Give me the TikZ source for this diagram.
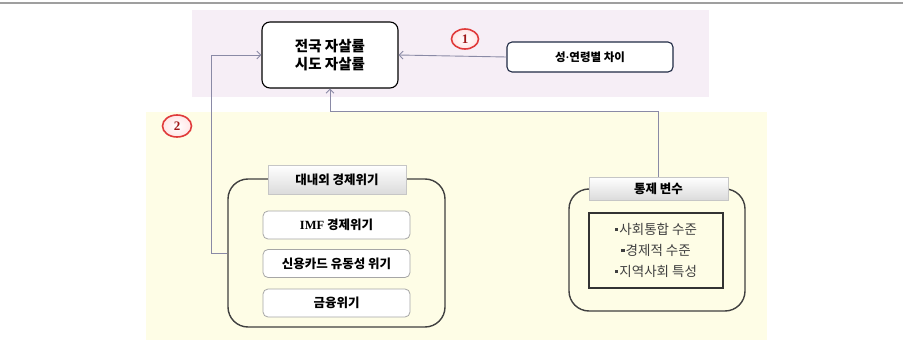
\documentclass[tikz,border=0pt]{standalone}
\usepackage{fontspec}
\newfontfamily\kr{Noto Sans CJK KR}
\newfontfamily\tnr{Liberation Serif}
\usetikzlibrary{arrows.meta,shapes.geometric}
\definecolor{pinkbg}{HTML}{F6EEF6}
\definecolor{yellowbg}{HTML}{FEFDE6}
\definecolor{conncol}{HTML}{8A8AA6}
\definecolor{navy}{HTML}{1F2A44}
\definecolor{numred}{HTML}{E03A3A}
\definecolor{numtxt}{HTML}{A01818}
\newcommand{\sq}{\raisebox{3.5pt}{\rule{3.5pt}{3.5pt}}\kern1pt}
\begin{document}
\begin{tikzpicture}[x=1pt,y=-1pt,
  conn/.style={draw=conncol, line width=0.9pt, -{Straight Barb[length=4pt,width=8pt]}},
  numcirc/.style={ellipse, draw=numred, line width=1.6pt, inner sep=0pt,
     inner color=white, outer color=red!10, font=\tnr\bfseries\fontsize{13}{13}\selectfont, text=numtxt},
  mainbox/.style={draw=black, line width=1.1pt, fill=white, rounded corners=8pt,
     minimum width=136pt, minimum height=66pt, align=center,
     font=\kr\bfseries\fontsize{14.5}{18}\selectfont},
  sexbox/.style={draw=navy, line width=1.1pt, fill=white, rounded corners=5pt,
     minimum width=166pt, minimum height=30pt, font=\kr\bfseries\fontsize{11.5}{12}\selectfont},
  groupbox/.style={draw=black!75, line width=1.4pt, rounded corners=20pt},
  titlebox/.style={draw=gray!45, line width=0.6pt, top color=white, bottom color=gray!28,
     font=\kr\bfseries\fontsize{12.5}{13}\selectfont},
  itembox/.style={draw=gray!70, line width=0.8pt, fill=white, rounded corners=5pt,
     minimum width=147pt, minimum height=28pt, font=\kr\bfseries\fontsize{12.5}{13}\selectfont},
  listbox/.style={draw=black!80, line width=1.1pt, fill=yellowbg,
     minimum width=134pt, minimum height=75pt, align=center,
     font=\kr\fontsize{13.5}{21}\selectfont, text=black!75}
]
\useasboundingbox (0,0) rectangle (903,345);
\draw[gray!75, line width=2pt] (0,3.5) -- (903,3.5);
\fill[pinkbg] (192,10) rectangle (709,97);
\fill[yellowbg] (146,112) rectangle (767,340);

\node[mainbox] (main) at (330,55) {전국 자살률\\시도 자살률};
\node[sexbox] (sex) at (590,57) {성{\tnr\bfseries ·}연령별 차이};
\node[numcirc, minimum width=27pt, minimum height=20pt] (n1) at (465,39) {1};
\node[numcirc, minimum width=29pt, minimum height=22pt] (n2) at (177,126) {2};

\node[groupbox, minimum width=217pt, minimum height=148pt] (lbox) at (336.5,253) {};
\node[titlebox, minimum width=138pt, minimum height=29pt] (ltitle) at (337,179.5) {대내외 경제위기};
\node[itembox] (imf) at (336.5,225) {{\tnr\bfseries IMF} 경제위기};
\node[itembox] (card) at (336.5,263.5) {신용카드 유동성 위기};
\node[itembox] (fin) at (336.5,303) {금융위기};

\node[groupbox, minimum width=176pt, minimum height=122pt] (rbox) at (657,250) {};
\node[titlebox, minimum width=139pt, minimum height=23pt] (rtitle) at (658.5,188.5) {통제 변수};
\node[listbox] (list) at (656,250.5) {\sq{}사회통합 수준\\\sq{}경제적 수준\\\sq{}지역사회 특성};

\coordinate (kr) at (0,111);
\coordinate (kl) at (211,0);
\draw[conn] (sex.west) -- (main.east);
\draw[conn] (rtitle.north) |- (kr -| main.south) -- (main.south);
\draw[conn] (lbox.west) -- (lbox.west -| kl) |- (main.west);
\end{tikzpicture}
\end{document}
